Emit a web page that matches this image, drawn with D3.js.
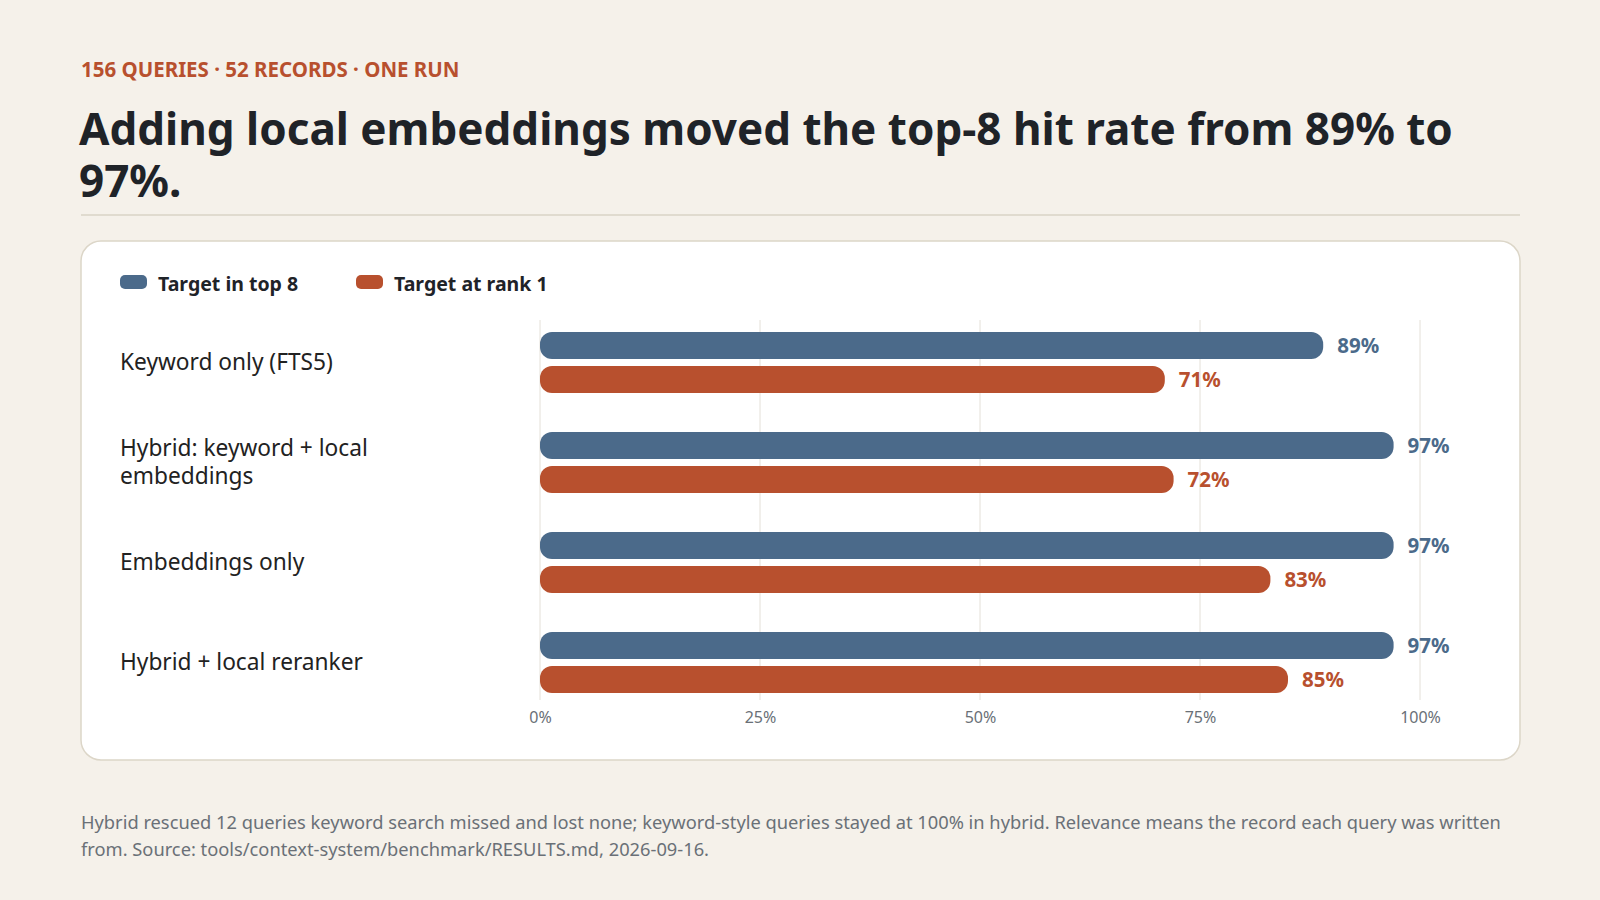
<!DOCTYPE html>
<html><head><meta charset="utf-8">
<script src="https://cdn.jsdelivr.net/npm/d3@7"></script>
<style>body{margin:0;background:#f5f1ea;font-family:"Noto Sans",sans-serif;}</style>
</head><body><svg id="chart"></svg>
<script>
var categories = ["Keyword only (FTS5)", "Hybrid: keyword + local|embeddings", "Embeddings only", "Hybrid + local reranker"];
var top8 = [89, 97, 97, 97];
var rank1 = [71, 72, 83, 85];
var series = [{name: "Target in top 8", values: top8, color: "#4b6a8a"},
              {name: "Target at rank 1", values: rank1, color: "#b8502e"}];
var ticks = [0, 25, 50, 75, 100];

var width = 1600, height = 900;
var svg = d3.select("#chart").attr("width", width).attr("height", height);
svg.append("rect").attr("width", width).attr("height", height).attr("fill", "#f5f1ea");

svg.append("text").attr("x", 81).attr("y", 77).attr("fill", "#b8502e")
  .attr("font-size", 20.5).attr("font-weight", 700).text("156 QUERIES · 52 RECORDS · ONE RUN");
["Adding local embeddings moved the top-8 hit rate from 89% to", "97%."].forEach(function(t, i) {
  svg.append("text").attr("x", 79).attr("y", 145 + i * 52).attr("fill", "#1f2328")
    .attr("font-size", 44).attr("font-weight", 700).text(t);
});
svg.append("line").attr("x1", 81).attr("x2", 1520).attr("y1", 215).attr("y2", 215)
  .attr("stroke", "#d9d3c6").attr("stroke-width", 1.5);

svg.append("rect").attr("x", 81).attr("y", 241).attr("width", 1439).attr("height", 519)
  .attr("rx", 20).attr("fill", "#fff").attr("stroke", "#dcd6c8").attr("stroke-width", 1.5);

// legend
var lx = [120, 356];
series.forEach(function(s, i) {
  svg.append("rect").attr("x", lx[i]).attr("y", 275).attr("width", 27).attr("height", 14)
    .attr("rx", 5).attr("fill", s.color);
  svg.append("text").attr("x", lx[i] + 38).attr("y", 291).attr("font-size", 19.5)
    .attr("font-weight", 700).attr("fill", "#1f2328").text(s.name);
});

var x = d3.scaleLinear().domain([0, 100]).range([540, 1420]);
var y = d3.scaleBand().domain(categories).range([312, 712]);
var barH = 27;

var grid = svg.append("g");
grid.selectAll("line").data(ticks).enter().append("line")
  .attr("x1", d => x(d)).attr("x2", d => x(d)).attr("y1", 320).attr("y2", 700)
  .attr("stroke", "#e4e0d8").attr("stroke-width", 1);

var axis = svg.append("g").attr("transform", "translate(0,709)")
  .call(d3.axisBottom(x).tickValues(ticks).tickFormat(d => d + "%").tickSize(0));
axis.select(".domain").remove();
axis.selectAll("text").attr("font-size", 16).attr("fill", "#6a7077").attr("font-family", "Noto Sans");

categories.forEach(function(c, ci) {
  var cy = y(c) + y.bandwidth() / 2;
  var lines = c.split("|");
  lines.forEach(function(l, li) {
    svg.append("text").attr("x", 120).attr("y", cy + 8 + (li - (lines.length - 1) / 2) * 28)
      .attr("font-size", 22.7).attr("fill", "#222").text(l);
  });
  series.forEach(function(s, si) {
    var by = cy - 30 + si * 34;
    var v = s.values[ci];
    svg.append("rect").attr("x", x(0)).attr("y", by).attr("width", x(v) - x(0)).attr("height", barH)
      .attr("rx", 12).attr("fill", s.color);
    svg.append("text").attr("x", x(v) + 14).attr("y", by + barH / 2 + 7)
      .attr("font-size", 20.5).attr("font-weight", 700).attr("fill", s.color).text(v + "%");
  });
});

["Hybrid rescued 12 queries keyword search missed and lost none; keyword-style queries stayed at 100% in hybrid. Relevance means the record each query was written",
 "from. Source: tools/context-system/benchmark/RESULTS.md, 2026-09-16."].forEach(function(t, i) {
  svg.append("text").attr("x", 81).attr("y", 829 + i * 27).attr("font-size", 18.3)
    .attr("fill", "#6a7077").text(t);
});
</script></body></html>
